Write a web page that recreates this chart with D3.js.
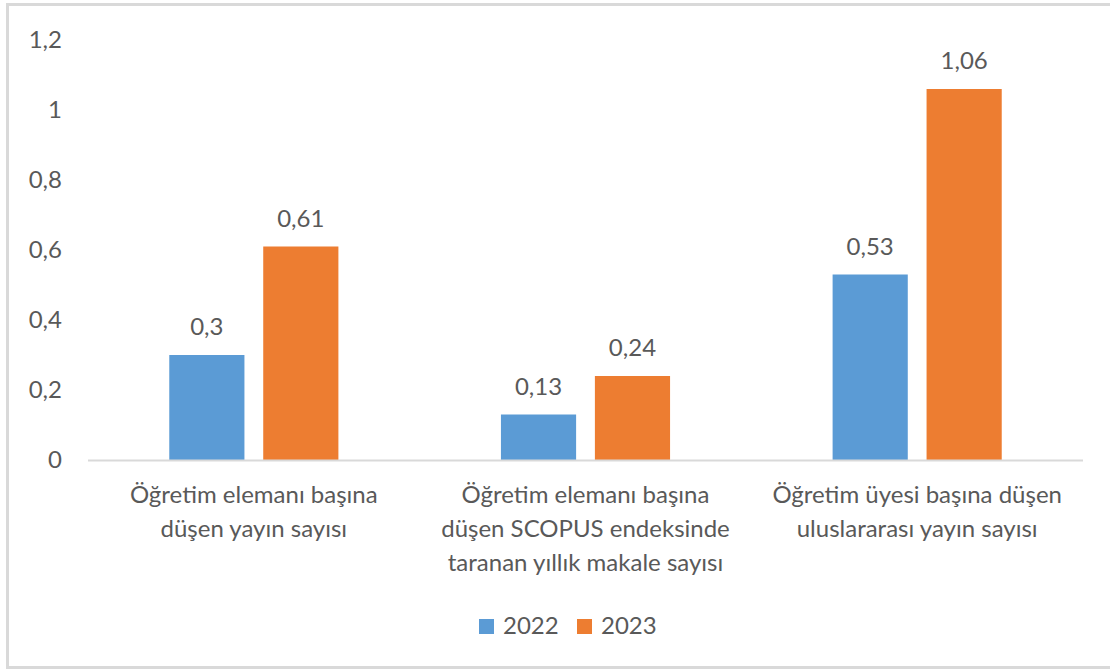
<!DOCTYPE html>
<html>
<head>
<meta charset="utf-8">
<script src="https://cdn.jsdelivr.net/npm/d3@7"></script>
<style>
    body { margin: 0; background: #fff; }
    svg { display: block; }
    text { font-family: Lato, "Open Sans", sans-serif; fill: #595959; }
</style>
</head>
<body>
<div id="chart"></div>
<script>
// chart data
const categories = [
    ["Öğretim elemanı başına", "düşen yayın sayısı"],
    ["Öğretim elemanı başına", "düşen SCOPUS endeksinde", "taranan yıllık makale sayısı"],
    ["Öğretim üyesi başına düşen", "uluslararası yayın sayısı"]
];
const seriesNames = ["2022", "2023"];
const values2022 = [0.3, 0.13, 0.53];
const values2023 = [0.61, 0.24, 1.06];
const yTicks = [0, 0.2, 0.4, 0.6, 0.8, 1, 1.2];
const colors = ["#5b9bd5", "#ed7d31"];

const W = 1110, H = 669;
const margin = {top: 40, right: 27, bottom: 209, left: 88};
const width = W - margin.left - margin.right;
const height = H - margin.top - margin.bottom;

const svg = d3.select("#chart").append("svg")
    .attr("width", W)
    .attr("height", H);

// outer frame
svg.append("rect")
    .attr("x", 7.5).attr("y", 4.5)
    .attr("width", W + 10).attr("height", H - 6)
    .attr("fill", "none")
    .attr("stroke", "#d9d9d9")
    .attr("stroke-width", 3);

const g = svg.append("g")
    .attr("transform", `translate(${margin.left},${margin.top})`);

const x0 = d3.scaleBand()
    .domain(d3.range(categories.length))
    .range([0, width]);

const x1 = d3.scaleBand()
    .domain(d3.range(seriesNames.length))
    .range([0, x0.bandwidth()])
    .paddingInner(0.2)
    .paddingOuter(0.865);

const y = d3.scaleLinear()
    .domain([0, 1.2])
    .range([height, 0]);

const fmt = v => String(v).replace(".", ",");

// y tick labels
g.selectAll(".ytick")
    .data(yTicks)
    .enter().append("text")
    .attr("class", "ytick")
    .attr("x", -26)
    .attr("y", d => y(d))
    .attr("dy", "0.35em")
    .attr("text-anchor", "end")
    .style("font-size", "24px")
    .text(fmt);

const seriesData = [values2022, values2023];

seriesData.forEach((vals, si) => {
    g.selectAll(`.bar-${si}`)
        .data(vals)
        .enter().append("rect")
        .attr("class", `bar-${si}`)
        .attr("x", (d, i) => x0(i) + x1(si))
        .attr("width", x1.bandwidth())
        .attr("y", d => y(d))
        .attr("height", d => height - y(d))
        .attr("fill", colors[si]);

    g.selectAll(`.lbl-${si}`)
        .data(vals)
        .enter().append("text")
        .attr("class", `lbl-${si}`)
        .attr("x", (d, i) => x0(i) + x1(si) + x1.bandwidth() / 2)
        .attr("y", d => y(d) - 20)
        .attr("text-anchor", "middle")
        .style("font-size", "24px")
        .text(fmt);
});

// baseline
g.append("line")
    .attr("x1", 0).attr("x2", width)
    .attr("y1", height + 0.5).attr("y2", height + 0.5)
    .attr("stroke", "#d9d9d9")
    .attr("stroke-width", 2);

// category labels
categories.forEach((lines, i) => {
    const t = g.append("text")
        .attr("x", x0(i) + x0.bandwidth() / 2)
        .attr("y", height + 43)
        .attr("text-anchor", "middle")
        .style("font-size", "24px");
    lines.forEach((line, k) => {
        t.append("tspan")
            .attr("x", x0(i) + x0.bandwidth() / 2)
            .attr("dy", k === 0 ? 0 : 34)
            .text(line);
    });
});

// legend
const legend = svg.append("g")
    .attr("transform", "translate(479, 626)");
const legendX = [0, 98];
seriesNames.forEach((name, i) => {
    legend.append("rect")
        .attr("x", legendX[i]).attr("y", -7)
        .attr("width", 15).attr("height", 15)
        .attr("fill", colors[i]);
    legend.append("text")
        .attr("x", legendX[i] + 24)
        .attr("y", 0)
        .attr("dy", "0.35em")
        .style("font-size", "24px")
        .text(name);
});
</script>
</body>
</html>
